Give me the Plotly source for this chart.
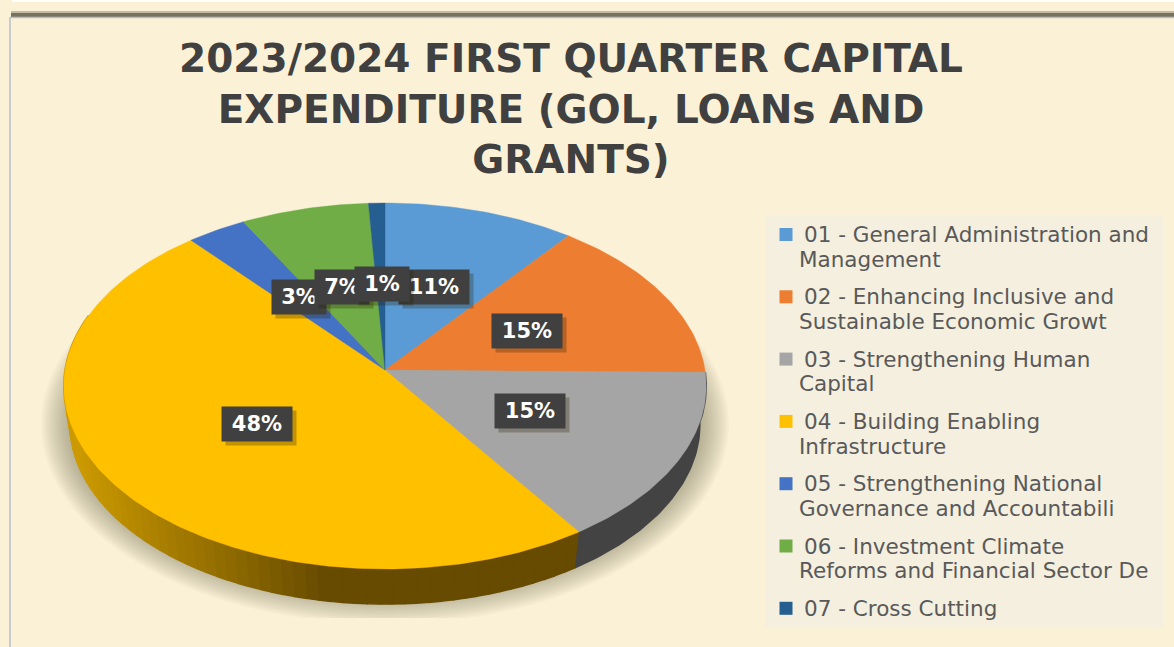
import numpy as np
import plotly.graph_objects as go

# ---- data ----
categories = [
    ["01 - General Administration and", "Management"],
    ["02 - Enhancing Inclusive and", "Sustainable Economic Growt"],
    ["03 - Strengthening Human", "Capital"],
    ["04 - Building Enabling", "Infrastructure"],
    ["05 - Strengthening National", "Governance and Accountabili"],
    ["06 - Investment Climate", "Reforms and Financial Sector De"],
    ["07 - Cross Cutting"],
]
shares = [10.5, 14.7, 15.3, 48.3, 3.3, 7.0, 0.9]
share_labels = ["11%", "15%", "15%", "48%", "3%", "7%", "1%"]
colors = ["#5B9BD5", "#ED7D31", "#A5A5A5", "#FFC000", "#4472C4", "#70AD47", "#255E91"]
title_lines = ["2023/2024 FIRST QUARTER CAPITAL", "EXPENDITURE (GOL, LOANs AND", "GRANTS)"]

# ---- geometry of the tilted pie ----
W, H = 1174, 647
CX, CY = 385, 370
B, A, K = 320.0, 181.6, 0.0875
DEPTH, SCALE = 39.0, 0.98
BG = "#FBF1D7"


def project(theta, r=1.0, scale=1.0, drop=0.0):
    u, v = r * np.sin(theta), r * np.cos(theta)
    d = 1 + K * v
    return CX + scale * B * u / d, CY + drop - scale * A * v / d


def mix(c1, c2, t):
    a = [int(c1[i:i + 2], 16) for i in (1, 3, 5)]
    b = [int(c2[i:i + 2], 16) for i in (1, 3, 5)]
    return "rgb(%d,%d,%d)" % tuple(round(a[i] + (b[i] - a[i]) * t) for i in range(3))


fig = go.Figure()


def poly(x, y, color, width=0.0):
    fig.add_trace(go.Scatter(x=x, y=y, mode="lines", fill="toself", fillcolor=color,
                             line=dict(color=color, width=width), hoverinfo="skip",
                             showlegend=False))


# soft ground shadow
for s in np.linspace(1, 0, 16):
    t = np.linspace(0, 2 * np.pi, 180)
    x = CX + (316 + 28 * s) * np.sin(t)
    y = 424 + (174 + 26 * s) * np.cos(t)
    y = np.minimum(y, 618)
    poly(x, y, "rgba(110,100,60,0.032)")

edges = np.cumsum([0] + shares) / sum(shares) * 2 * np.pi


def wall(a0, a1, color, n=6):
    ts = np.linspace(a0, a1, n)
    xt, yt = project(ts)
    xb, yb = project(ts, scale=SCALE, drop=DEPTH)
    poly(np.r_[xt, xb[::-1]], np.r_[yt, yb[::-1]], color, width=1.6)


# pie wall: drawn from the slice edges that face the viewer
wall(max(edges[2], 0.5 * np.pi), edges[3], "#434343", n=60)
cuts = np.linspace(edges[3], min(edges[4], 1.6 * np.pi), 70)
for a0, a1 in zip(cuts[:-1], cuts[1:]):
    xm = project(np.array([(a0 + a1) / 2]))[0][0]
    wall(a0, a1, mix("#CC9A00", "#664B00", float(np.clip((xm - 75) / (325 - 75), 0, 1))), n=3)

# top slices
for i, col in enumerate(colors):
    ts = np.linspace(edges[i], edges[i + 1], max(8, int(shares[i] * 4)))
    xa, ya = project(ts)
    fig.add_trace(go.Scatter(x=np.r_[CX, xa, CX], y=np.r_[CY, ya, CY], mode="lines", fill="toself",
                             fillcolor=col, line=dict(color=col, width=0.4), showlegend=False,
                             name=" ".join(categories[i]),
                             text=share_labels[i], hoverinfo="name+text"))

# legend swatches
LEG_X, LEG_Y0 = 786, 234.5
ROW, LINE = 62.3, 24.6
leg_rows = [LEG_Y0 + ROW * i for i in range(len(categories))]
fig.add_trace(go.Scatter(x=[LEG_X] * len(categories), y=leg_rows, mode="markers",
                         marker=dict(symbol="square", size=13, color=colors, line=dict(width=0)),
                         hoverinfo="skip", showlegend=False))

annotations = []
LEG_FONT = dict(family="DejaVu Sans", size=21.5, color="#595959")
for cat, row in zip(categories, leg_rows):
    for j, line in enumerate(cat):
        annotations.append(dict(x=804 if j == 0 else 799, y=row + j * LINE, xref="x", yref="y",
                                xanchor="left", yanchor="middle", align="left", showarrow=False,
                                text=line, font=LEG_FONT, borderpad=0, borderwidth=0))

TITLE_FONT = dict(family="DejaVu Sans", size=39, color="#404040")

# data labels: (slice index, left, top, width) in paint order
label_boxes = [(4, 272, 280, 54), (5, 315, 270, 54), (0, 399, 270, 70), (6, 355, 267, 54),
               (1, 492, 314, 70), (2, 495, 394, 70), (3, 222, 407, 70)]
BOX_H = 34
for idx, left, top, w in label_boxes:
    annotations.append(dict(x=left + w / 2 + 4, y=top + BOX_H / 2 + 4, xref="x", yref="y", text=" ",
                            width=w, height=BOX_H, bgcolor="rgba(40,30,0,0.28)", showarrow=False,
                            borderpad=0, xanchor="center", yanchor="middle"))
    annotations.append(dict(x=left + w / 2, y=top + BOX_H / 2, xref="x", yref="y",
                            text="<b>%s</b>" % share_labels[idx], width=w, height=BOX_H,
                            bgcolor="#404040", showarrow=False, borderpad=0,
                            xanchor="center", yanchor="middle",
                            font=dict(family="DejaVu Sans", size=21, color="#FFFFFF")))

shapes = [
    dict(type="rect", xref="x", yref="y", x0=12, x1=W, y0=0, y1=2, fillcolor="#FFFEF8", line_width=0, layer="below"),
    dict(type="rect", xref="x", yref="y", x0=11, x1=W, y0=11, y1=14, fillcolor="#C2BCA6", line_width=0, layer="below"),
    dict(type="rect", xref="x", yref="y", x0=11, x1=W, y0=13, y1=17, fillcolor="#77725F", line_width=0, layer="below"),
    dict(type="line", xref="x", yref="y", x0=10, x1=W, y0=17.5, y1=17.5, line=dict(color="#B8BEC8", width=1.5), layer="below"),
    dict(type="line", xref="x", yref="y", x0=10, x1=10, y0=17, y1=H, line=dict(color="#B8BEC8", width=1.5), layer="below"),
    dict(type="rect", xref="x", yref="y", x0=765, x1=1163, y0=216, y1=627, fillcolor="#F4EFDF", line_width=0, layer="below"),
]

fig.update_layout(
    width=W, height=H, margin=dict(l=0, r=0, t=0, b=0),
    paper_bgcolor=BG, plot_bgcolor=BG, showlegend=False,
    title=dict(text="<b>" + "<br>".join(title_lines) + "</b>", x=571 / W, xanchor="center",
               y=1 - 72 / H, yanchor="top", yref="container", font=TITLE_FONT),
    xaxis=dict(range=[0, W], visible=False, fixedrange=True),
    yaxis=dict(range=[H, 0], visible=False, fixedrange=True),
    annotations=annotations, shapes=shapes,
)
fig.write_html("out.html", config=dict(displayModeBar=False),
               post_script="document.body.style.margin='0';document.body.style.background='%s';" % BG)
